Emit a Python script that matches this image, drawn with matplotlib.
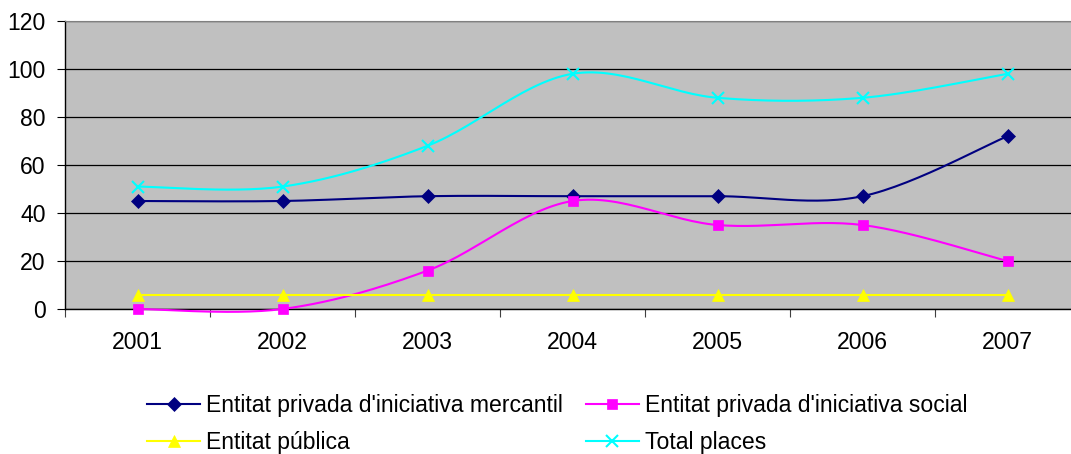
import numpy as np
import matplotlib
matplotlib.use("Agg")
import matplotlib.pyplot as plt
from matplotlib.lines import Line2D

plt.rcParams['font.family'] = ['Liberation Sans', 'DejaVu Sans']

# Data
years = ["2001", "2002", "2003", "2004", "2005", "2006", "2007"]
mercantil = [45, 45, 47, 47, 47, 47, 72]
social = [0, 0, 16, 45, 35, 35, 20]
publica = [6, 6, 6, 6, 6, 6, 6]
total = [51, 51, 68, 98, 88, 88, 98]

labels = ["Entitat privada d'iniciativa mercantil",
          "Entitat privada d'iniciativa social",
          "Entitat pública",
          "Total places"]


def smooth(xs, ys, n=30):
    # Excel-like smoothed line: cubic Bezier with Catmull-Rom control points
    xs = np.asarray(xs, float)
    ys = np.asarray(ys, float)
    px = np.concatenate([[xs[0]], xs, [xs[-1]]])
    py = np.concatenate([[ys[0]], ys, [ys[-1]]])
    outx, outy = [], []
    t = np.linspace(0, 1, n)
    for i in range(1, len(px) - 2):
        p0 = np.array([px[i - 1], py[i - 1]])
        p1 = np.array([px[i], py[i]])
        p2 = np.array([px[i + 1], py[i + 1]])
        p3 = np.array([px[i + 2], py[i + 2]])
        c1 = p1 + (p2 - p0) / 6
        c2 = p2 - (p3 - p1) / 6
        b = ((1 - t) ** 3)[:, None] * p1 + (3 * (1 - t) ** 2 * t)[:, None] * c1 \
            + (3 * (1 - t) * t ** 2)[:, None] * c2 + (t ** 3)[:, None] * p2
        outx.extend(b[:, 0])
        outy.extend(b[:, 1])
    return outx, outy


W, H = 1071, 454
fs = 16.6
fig = plt.figure(figsize=(W / 100, H / 100), dpi=100)
ax = fig.add_axes([65 / W, (H - 309) / H, 1015 / W, 288 / H])
ax.set_facecolor('#C0C0C0')

x = np.arange(1, len(years) + 1)
series = [
    (mercantil, '#000080', 'D', 7.5),
    (social, '#FF00FF', 's', 7.5),
    (publica, '#FFFF00', '^', 8.5),
    (total, '#00FFFF', 'x', 8.5),
]
handles = []
for (vals, col, mk, ms), lab in zip(series, labels):
    sx, sy = smooth(x, vals)
    ax.plot(sx, sy, color=col, lw=1.5, zorder=3, clip_on=False)
    ax.plot(x, vals, linestyle='none', marker=mk, color=col, ms=ms,
            mew=1.5 if mk == 'x' else 0.5, zorder=4, clip_on=False)
    handles.append(Line2D([], [], color=col, lw=1.5, marker=mk, ms=ms,
                          mew=1.5 if mk == 'x' else 0.5))

ax.set_xlim(0.5, len(years) + 0.5)
ax.set_ylim(0, 120)
ax.set_yticks(range(0, 121, 20))
ax.yaxis.grid(True, color='black', lw=0.9)
ax.set_axisbelow(True)

ax.set_xticks(np.arange(0.5, len(years) + 1, 1))
ax.set_xticklabels([])
ax.set_xticks(x, minor=True)
ax.set_xticklabels(years, minor=True)
ax.tick_params(axis='x', which='major', length=6, width=0.8, color='#404040', direction='out')
ax.tick_params(axis='x', which='minor', length=0, pad=16, labelsize=fs)
ax.tick_params(axis='y', length=6, width=0.8, pad=8, labelsize=fs)

for s in ['top', 'right']:
    ax.spines[s].set_color('#808080')
for s in ['left', 'bottom']:
    ax.spines[s].set_color('black')
    ax.spines[s].set_linewidth(1.0)

order = [0, 2, 1, 3]
fig.legend([handles[i] for i in order], [labels[i] for i in order],
           ncol=2, frameon=False, loc='upper left',
           bbox_to_anchor=(147 / W, 1 - 394 / H), fontsize=fs,
           handlelength=2.3, handletextpad=0.25, columnspacing=1.0,
           labelspacing=0.62, borderpad=0, borderaxespad=0)

fig.savefig('out.png', dpi=100)
